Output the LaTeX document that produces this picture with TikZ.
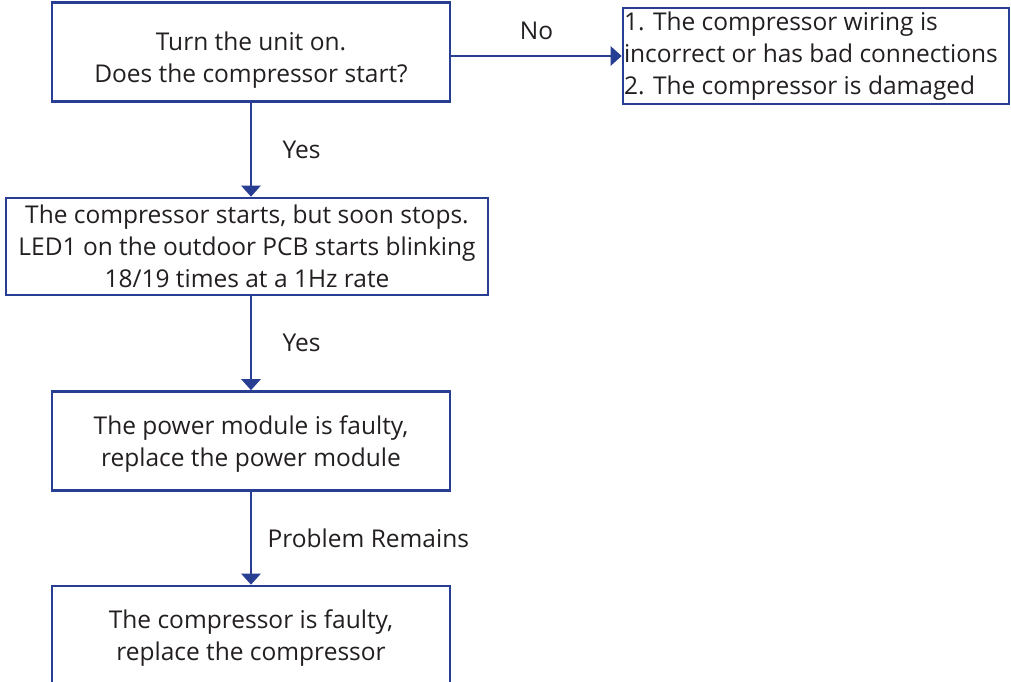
\documentclass[tikz,border=0pt]{standalone}
\usepackage{fontspec}
\setmainfont{Open Sans}
\usetikzlibrary{arrows.meta}

\definecolor{flowblue}{RGB}{40,62,146}
\definecolor{flowtext}{RGB}{35,31,32}

\tikzset{
  box/.style={draw=flowblue, line width=2.6pt, minimum width=398pt, minimum height=99pt,
    inner sep=0pt, align=center, text=flowtext, text depth=0pt},
  widebox/.style={box, minimum width=482pt, minimum height=97pt},
  listbox/.style={draw=flowblue, line width=2.6pt, minimum width=386pt, minimum height=96pt,
    inner xsep=1pt, inner ysep=0pt, align=flush left, text width=384pt, text=flowtext},
  lbl/.style={text=flowtext}
}

\begin{document}
\begin{tikzpicture}[node distance=194.5pt, font=\fontsize{24.5}{32}\selectfont,
    >={Triangle[length=11pt,width=19pt]}]
    \path[use as bounding box, clip] (-251pt,52pt) rectangle (760pt,-629pt);

    \node[box, text height=61pt] (start) {Turn the unit on.\\Does the compressor start?};
    \node[widebox] (stops) [below of=start, xshift=-4pt] {The compressor starts, but soon stops.\\LED1 on the outdoor PCB starts blinking\\18/19 times at a 1Hz rate};
    \node[box] (module) [below of=stops, xshift=4pt] {The power module is faulty,\\replace the power module};
    \node[box] (comp) [below of=module] {The compressor is faulty,\\replace the compressor};
    \node[listbox] (causes) [right of=start, node distance=565pt, yshift=-4pt] {1. The compressor wiring is\\incorrect or has bad connections\\2. The compressor is damaged};

    \draw[->, draw=flowblue, line width=2.6pt] (causes.west -| start.east) -- node[lbl, above=12pt] {No} (causes.west);
    \draw[->, draw=flowblue, line width=2.6pt] (start.south) -- node[lbl, right=27pt] {Yes} (start.south |- stops.north);
    \draw[->, draw=flowblue, line width=2.6pt] (module.north |- stops.south) -- node[lbl, right=27pt] {Yes} (module.north);
    \draw[->, draw=flowblue, line width=2.6pt] (module.south) -- node[lbl, right=12pt] {Problem Remains} (comp.north);
\end{tikzpicture}
\end{document}
